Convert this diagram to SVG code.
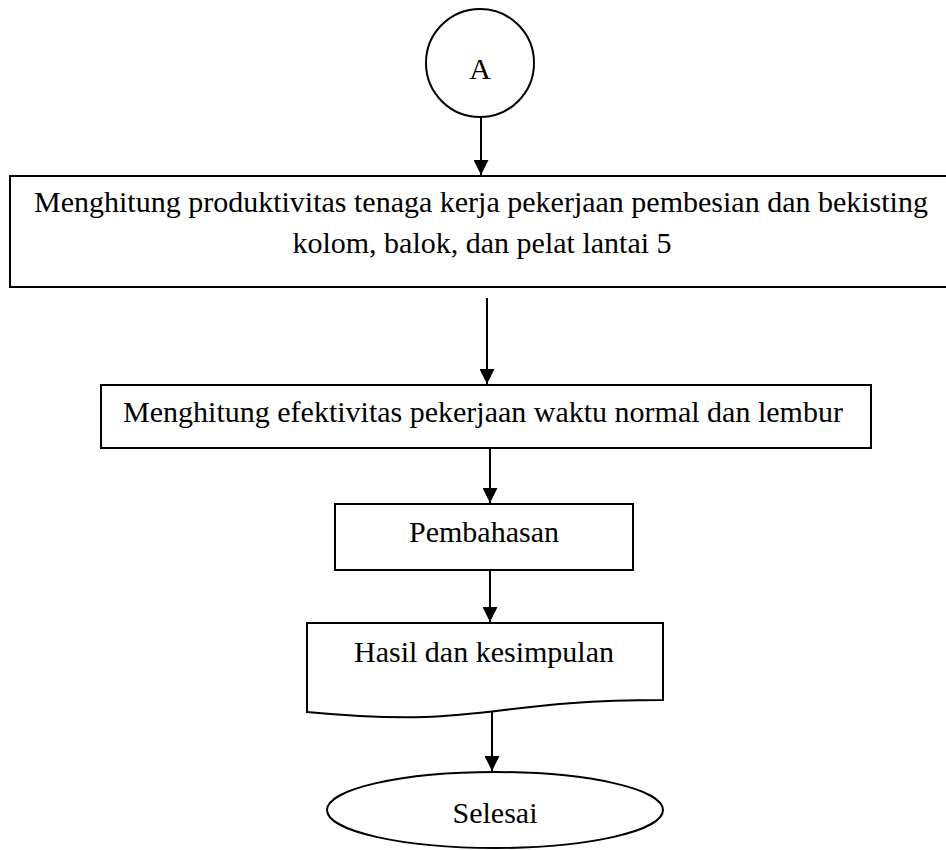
<svg xmlns="http://www.w3.org/2000/svg" width="946" height="850" viewBox="0 0 946 850">
<style>
.s{fill:#fff;stroke:#000;stroke-width:2}
.t{font-family:"Liberation Serif","Times New Roman",serif;font-size:30px;fill:#000;text-anchor:middle}
.c{stroke:#000;stroke-width:2;fill:none;marker-end:url(#ah)}
</style>
<defs>
<marker id="ah" markerWidth="15" markerHeight="15" refX="15" refY="7.5" orient="auto" markerUnits="userSpaceOnUse" viewBox="0 0 15 15">
<path d="M0,0 L15,7.5 L0,15 Z" fill="#000"/>
</marker>
</defs>
<rect width="946" height="850" fill="#fff"/>
<g id="connectors">
<line class="c" x1="481" y1="117" x2="481" y2="175"/>
<line class="c" x1="487" y1="298" x2="487" y2="384"/>
<line class="c" x1="490" y1="449" x2="490" y2="503"/>
<line class="c" x1="490" y1="571" x2="490" y2="622"/>
<line class="c" x1="492" y1="712" x2="492" y2="771"/>
</g>
<g id="nodeA">
<circle class="s" cx="480" cy="63" r="54"/>
<text class="t" x="480" y="79">A</text>
</g>
<g id="node1">
<rect class="s" x="10" y="176" width="950" height="111"/>
<text class="t" x="481" y="212">Menghitung produktivitas tenaga kerja pekerjaan pembesian dan bekisting</text>
<text class="t" x="482" y="253">kolom, balok, dan pelat lantai 5</text>
</g>
<g id="node2">
<rect class="s" x="101" y="385" width="770" height="63"/>
<text class="t" x="483" y="422">Menghitung efektivitas pekerjaan waktu normal dan lembur</text>
</g>
<g id="node3">
<rect class="s" x="335" y="504" width="298" height="66"/>
<text class="t" x="484" y="542">Pembahasan</text>
</g>
<g id="node4">
<path class="s" d="M307,623 H663 V700 C485,700 485,729 307,712 Z"/>
<text class="t" x="484" y="662">Hasil dan kesimpulan</text>
</g>
<g id="node5">
<ellipse class="s" cx="495" cy="810" rx="168" ry="38"/>
<text class="t" x="495" y="823">Selesai</text>
</g>
</svg>
